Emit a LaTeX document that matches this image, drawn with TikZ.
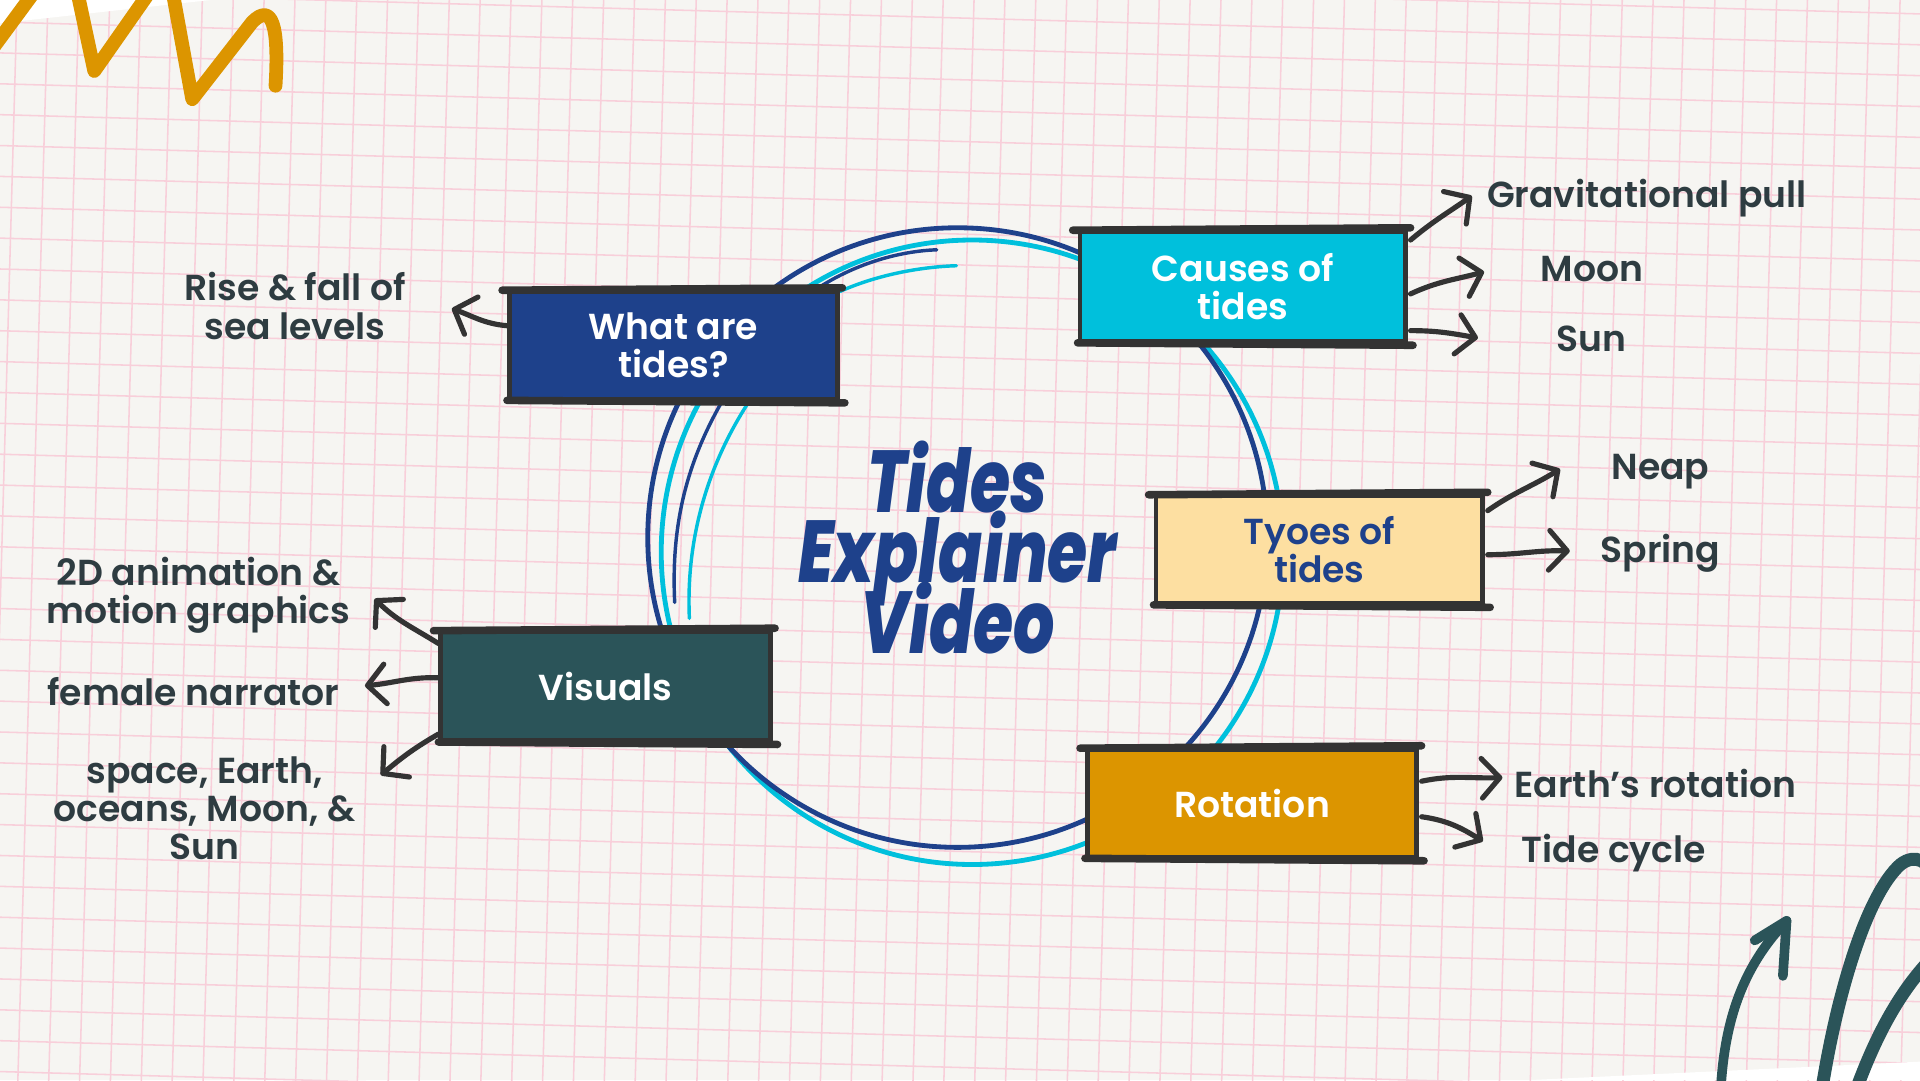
\documentclass[tikz,border=0pt]{standalone}
\usepackage{fontspec}
\setmainfont{Poppins}[UprightFont=* SemiBold, BoldFont=* SemiBold]
\newfontfamily\titlefont{Poppins}[UprightFont=* ExtraBold Italic]
\usetikzlibrary{arrows.meta,calc}
\definecolor{paper}{HTML}{F6F5F2}
\definecolor{gridpink}{HTML}{F8CFDA}
\definecolor{ink}{HTML}{333333}
\definecolor{labink}{HTML}{2E3C41}
\definecolor{cnavy}{HTML}{1E418B}
\definecolor{ccyan}{HTML}{00C0DC}
\definecolor{cpeach}{HTML}{FDDFA1}
\definecolor{cteal}{HTML}{2B5459}
\definecolor{corange}{HTML}{DC9500}
\tikzset{
  gridline/.style={draw=gridpink, line width=0.9pt},
  box/.style={draw=ink, line width=2.8pt, inner sep=0pt, align=center,
    font=\fontsize{21}{22}\selectfont},
  edgestroke/.style={draw=ink, line width=4.4pt, line cap=round},
  lab/.style={inner sep=0pt, align=center, text=labink,
    font=\fontsize{21}{22.3}\selectfont},
  arr/.style={draw=ink, line width=3pt, line cap=round,
    -{Straight Barb[length=10.5pt,width=23pt,round]}},
  ring/.style={line width=2.8pt},
  thinring/.style={line width=2pt, line cap=round},
}
\begin{document}
\begin{tikzpicture}[x=0.25mm,y=-0.25mm]
\useasboundingbox (0,0) rectangle (1568,882);
\fill[paper] (0,0) rectangle (1568,882);
% grid
\begin{scope}
\clip (0,0) rectangle (1568,882);
\begin{scope}[rotate around={-1.6:(0,0)}]
\foreach \i in {-3,...,66} \draw[gridline] (\i*25.2+14,-200) -- (\i*25.2+14,1100);
\foreach \j in {-6,...,40} \draw[gridline] (-100,\j*25.2+18) -- (1800,\j*25.2+18);
\end{scope}
\end{scope}
% paper edges
\fill[white] (0,0) -- (0,19) -- (172,0) -- cycle;
\fill[white] (1250,882) -- (1568,867) -- (1568,882) -- cycle;
% orange zigzag
\draw[corange, line width=8pt, line cap=round, line join=round]
  (-10,45) -- (32,-12);
\draw[corange, line width=8pt, line cap=round, line join=round]
  (62,-12) -- (77,58) -- (126,-12);
\draw[corange, line width=8pt, line cap=round, line join=round]
  (140,-12) -- (157,81) -- (206,18) .. controls (222,2) and (228,20) .. (225,70);
% teal scribble bottom right
\draw[cteal, line width=5.6pt, line cap=round, line join=round]
  (1405,895) .. controls (1408,825) and (1428,785) .. (1459,752);
\draw[cteal, line width=5.6pt, line cap=round, line join=round]
  (1433,768) -- (1459,752) -- (1456,797);
\draw[cteal, line width=7.5pt, line cap=round]
  (1487,895) .. controls (1500,810) and (1525,730) .. (1552,706)
  .. controls (1565,696) and (1575,705) .. (1580,715);
\draw[cteal, line width=7.5pt, line cap=round]
  (1514,895) .. controls (1530,850) and (1550,810) .. (1580,780);
% central ring
\draw[ccyan, ring] (794,451) ellipse [x radius=254, y radius=255];
\draw[cnavy, ring] (782,439) ellipse [x radius=253, y radius=253];
\draw[cnavy, thinring] (670,234) .. controls (700,215) and (735,205) .. (765,204);
\draw[ccyan, thinring] (686,238) .. controls (715,225) and (750,218) .. (781,217);
\draw[cnavy, thinring] (589,329) .. controls (560,380) and (548,430) .. (551,492);
\draw[ccyan, thinring] (611,329) .. controls (578,380) and (560,440) .. (563,505);
% title
\node[text=cnavy, align=center, inner sep=0pt, xscale=0.74, transform shape,
  font={\titlefont\fontsize{51}{41}\selectfont\lineskiplimit=-100pt}] (title) at (782,447)
  {Tides\\Explainer\\Video};
% boxes
\node[box, fill=cnavy, text=white, minimum width=67mm, minimum height=22mm] (what) at (550,282) {What are\\tides?};
\node[box, fill=ccyan, text=white, minimum width=66.5mm, minimum height=22.5mm] (caus) at (1015,234) {Causes of\\tides};
\node[box, fill=cpeach, text=cnavy, minimum width=66.75mm, minimum height=22mm] (types) at (1077.5,449) {Tyoes of\\tides};
\node[box, fill=cteal, text=white, minimum width=67.25mm, minimum height=22.25mm] (vis) at (494.5,560.5) {Visuals};
\node[box, fill=corange, text=white, minimum width=67.25mm, minimum height=22mm] (rot) at (1022.5,656) {Rotation};
\foreach \b in {what,caus,types,vis,rot}{
  \draw[edgestroke] ($(\b.north west)+(-4,1)$) -- ($(\b.north east)+(2,-1)$);
  \draw[edgestroke] ($(\b.south west)+(0,-1)$) -- ($(\b.south east)+(4,1)$);
}
% labels
\node[lab] (rise) at (241,250) {Rise \& fall of\\sea levels};
\node[lab] (grav) at (1345,162) {Gravitational pull};
\node[lab] (moon) at (1300,220) {Moon};
\node[lab] (sun) at (1300,277) {Sun};
\node[lab] (neap) at (1356,385) {Neap};
\node[lab] (spring) at (1356,452) {Spring};
\node[lab] (anim) at (162,486) {2D animation \&\\motion graphics};
\node[lab] (narr) at (158,565) {female narrator};
\node[lab] (space) at (167,660) {space, Earth,\\oceans, Moon, \&\\Sun};
\node[lab] (erot) at (1352,640) {Earth’s rotation};
\node[lab] (tcyc) at (1318,697) {Tide cycle};
% arrow tips
\coordinate (trise) at (369,252);
\coordinate (tgrav) at (1202,160);
\coordinate (tmoon) at (1212,222);
\coordinate (tsun) at (1207,276);
\coordinate (tneap) at (1274,383);
\coordinate (tspring) at (1282,450);
\coordinate (tanim) at (306,489);
\coordinate (tnarr) at (298,560);
\coordinate (tspace) at (311,633);
\coordinate (terot) at (1227,635);
\coordinate (ttcyc) at (1211,687);
% arrows (to-path angles are screen angles, y up)
\draw[arr] ($(what.west)+(0,-16)$) to[out=175,in=-20] (trise);
\draw[arr] ($(caus.east)+(2,-38)$) to[out=40,in=-145] (tgrav);
\draw[arr] ($(caus.east)+(2,6)$) to[out=25,in=-165] (tmoon);
\draw[arr] ($(caus.east)+(2,36)$) to[out=0,in=170] (tsun);
\draw[arr] ($(types.east)+(2,-32)$) to[out=35,in=-148] (tneap);
\draw[arr] ($(types.east)+(2,4)$) to[out=0,in=178] (tspring);
\draw[arr] ($(vis.west)+(0,-35)$) to[out=148,in=-45] (tanim);
\draw[arr] ($(vis.west)+(0,-7)$) to[out=178,in=5] (tnarr);
\draw[arr] ($(vis.west)+(0,39)$) to[out=-150,in=40] (tspace);
\draw[arr] ($(rot.east)+(2,-18)$) to[out=12,in=-178] (terot);
\draw[arr] ($(rot.east)+(2,11)$) to[out=-8,in=148] (ttcyc);
\end{tikzpicture}
\end{document}
